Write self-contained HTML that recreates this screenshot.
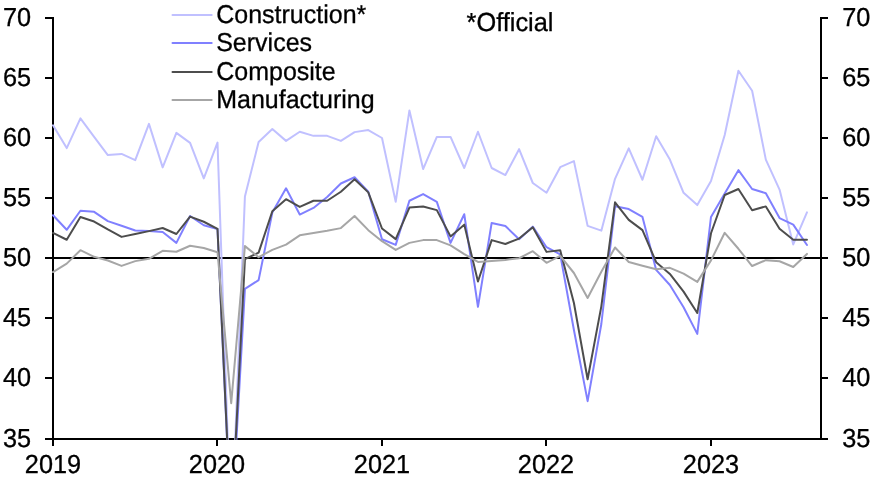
<!DOCTYPE html>
<html><head><meta charset="utf-8"><title>PMI chart</title>
<style>
html,body{margin:0;padding:0;background:#fff;}
text{text-rendering:geometricPrecision;stroke:#000;stroke-width:0.3px;}
svg{display:block;font-family:"Liberation Sans",sans-serif;font-size:25.3px;fill:#000;}
.s{fill:none;stroke-width:2;stroke-linejoin:round;stroke-linecap:round;}
.ax{stroke:#000;stroke-width:2;fill:none;shape-rendering:crispEdges;}
</style></head><body>
<svg width="873" height="482" viewBox="0 0 873 482">
<rect width="873" height="482" fill="#fff"/>
<defs><clipPath id="c"><rect x="0" y="0" width="873" height="440"/></clipPath></defs>

<line class="ax" x1="45" x2="828" y1="258" y2="258"/>
<line class="ax" x1="53" x2="53" y1="17" y2="446"/>
<line class="ax" x1="821" x2="821" y1="17" y2="440"/>
<line class="ax" x1="45" x2="828" y1="439" y2="439"/>
<line class="ax" x1="45" x2="53" y1="378" y2="378"/>
<line class="ax" x1="821" x2="828" y1="378" y2="378"/>
<line class="ax" x1="45" x2="53" y1="318" y2="318"/>
<line class="ax" x1="821" x2="828" y1="318" y2="318"/>
<line class="ax" x1="45" x2="53" y1="198" y2="198"/>
<line class="ax" x1="821" x2="828" y1="198" y2="198"/>
<line class="ax" x1="45" x2="53" y1="138" y2="138"/>
<line class="ax" x1="821" x2="828" y1="138" y2="138"/>
<line class="ax" x1="45" x2="53" y1="78" y2="78"/>
<line class="ax" x1="821" x2="828" y1="78" y2="78"/>
<line class="ax" x1="45" x2="53" y1="18" y2="18"/>
<line class="ax" x1="821" x2="828" y1="18" y2="18"/>
<g clip-path="url(#c)">
<polyline class="s" stroke="#c0c0ff" points="53.00,125.28 66.71,148.08 80.42,118.32 94.12,136.80 107.83,155.04 121.54,153.96 135.25,160.20 148.96,123.84 162.67,167.40 176.38,132.84 190.08,142.92 203.79,178.44 217.50,142.56 231.21,538.80 244.92,196.56 258.62,142.08 272.33,129.00 286.04,140.88 299.75,131.76 313.46,135.84 327.17,135.84 340.88,140.88 354.58,132.12 368.29,130.08 382.00,138.00 395.71,201.84 409.42,110.40 423.12,169.08 436.83,136.92 450.54,136.92 464.25,168.00 477.96,131.76 491.67,168.00 505.38,175.08 519.08,149.16 532.79,183.00 546.50,192.72 560.21,167.16 573.92,161.16 587.62,225.84 601.33,230.64 615.04,178.80 628.75,148.32 642.46,179.76 656.17,136.20 669.88,159.60 683.58,192.84 697.29,205.08 711.00,180.96 724.71,135.00 738.42,70.80 752.12,90.72 765.83,159.60 779.54,189.60 793.25,244.44 806.96,212.40"/>
<polyline class="s" stroke="#8080ff" points="53.00,215.28 66.71,229.80 80.42,210.72 94.12,211.80 107.83,221.16 121.54,225.72 135.25,230.52 148.96,230.88 162.67,232.08 176.38,242.88 190.08,216.00 203.79,225.24 217.50,228.96 231.21,531.60 244.92,288.96 258.62,280.08 272.33,212.52 286.04,188.28 299.75,214.56 313.46,207.96 327.17,197.04 340.88,183.48 354.58,177.24 368.29,191.76 382.00,239.28 395.71,244.92 409.42,200.76 423.12,194.04 436.83,201.84 450.54,242.88 464.25,214.20 477.96,306.84 491.67,222.96 505.38,226.08 519.08,239.16 532.79,226.68 546.50,247.20 560.21,254.40 573.92,330.00 587.62,401.16 601.33,324.00 615.04,206.16 628.75,209.04 642.46,216.96 656.17,269.88 669.88,285.00 683.58,307.20 697.29,333.84 711.00,216.96 724.71,193.56 738.42,170.16 752.12,189.00 765.83,193.20 779.54,218.04 793.25,224.64 806.96,245.04"/>
<polyline class="s" stroke="#4d4d4d" points="53.00,232.92 66.71,239.76 80.42,216.96 94.12,221.52 107.83,229.44 121.54,236.88 135.25,234.00 148.96,231.12 162.67,228.00 176.38,234.00 190.08,216.60 203.79,221.76 217.50,228.84 231.21,528.00 244.92,259.20 258.62,252.60 272.33,211.20 286.04,199.20 299.75,206.88 313.46,200.76 327.17,200.76 340.88,191.76 354.58,179.28 368.29,192.36 382.00,228.48 395.71,239.16 409.42,207.60 423.12,206.52 436.83,210.12 450.54,236.40 464.25,224.64 477.96,281.52 491.67,240.12 505.38,243.96 519.08,238.56 532.79,227.28 546.50,251.88 560.21,250.20 573.92,303.00 587.62,379.20 601.33,306.36 615.04,202.32 628.75,219.84 642.46,230.16 656.17,262.20 669.88,273.96 683.58,291.60 697.29,312.96 711.00,233.28 724.71,195.00 738.42,189.00 752.12,210.24 765.83,206.40 779.54,228.84 793.25,239.76 806.96,239.76"/>
<polyline class="s" stroke="#a6a6a6" points="53.00,272.04 66.71,263.64 80.42,250.20 94.12,256.80 107.83,260.52 121.54,265.92 135.25,261.12 148.96,258.84 162.67,250.80 176.38,251.76 190.08,245.76 203.79,248.04 217.50,252.24 231.21,403.20 244.92,246.12 258.62,257.16 272.33,249.84 286.04,244.68 299.75,235.32 313.46,232.92 327.17,230.76 340.88,228.12 354.58,216.00 368.29,230.16 382.00,241.20 395.71,249.96 409.42,242.88 423.12,240.12 436.83,240.12 450.54,245.40 464.25,254.04 477.96,261.96 491.67,260.88 505.38,259.92 519.08,258.24 532.79,251.16 546.50,262.80 560.21,255.96 573.92,273.00 587.62,297.96 601.33,271.80 615.04,247.44 628.75,261.96 642.46,265.68 656.17,269.28 669.88,267.84 683.58,273.60 697.29,281.88 711.00,260.40 724.71,232.80 738.42,248.76 752.12,266.04 765.83,260.16 779.54,261.24 793.25,267.00 806.96,253.92"/>
</g>
<line class="s" stroke="#c0c0ff" x1="172.5" x2="211.7" y1="15" y2="15"/>
<line class="s" stroke="#8080ff" x1="172.5" x2="211.7" y1="43" y2="43"/>
<line class="s" stroke="#4d4d4d" x1="172.5" x2="211.7" y1="72" y2="72"/>
<line class="s" stroke="#a6a6a6" x1="172.5" x2="211.7" y1="100" y2="100"/>
<g style="filter:grayscale(1)">
<text transform="translate(2.9,447.0) scale(1,1.03)" text-anchor="start">35</text>
<text transform="translate(842.2,447.0) scale(1,1.03)" text-anchor="start">35</text>
<text transform="translate(2.9,386.0) scale(1,1.03)" text-anchor="start">40</text>
<text transform="translate(842.2,386.0) scale(1,1.03)" text-anchor="start">40</text>
<text transform="translate(2.9,326.0) scale(1,1.03)" text-anchor="start">45</text>
<text transform="translate(842.2,326.0) scale(1,1.03)" text-anchor="start">45</text>
<text transform="translate(2.9,266.0) scale(1,1.03)" text-anchor="start">50</text>
<text transform="translate(842.2,266.0) scale(1,1.03)" text-anchor="start">50</text>
<text transform="translate(2.9,206.0) scale(1,1.03)" text-anchor="start">55</text>
<text transform="translate(842.2,206.0) scale(1,1.03)" text-anchor="start">55</text>
<text transform="translate(2.9,146.0) scale(1,1.03)" text-anchor="start">60</text>
<text transform="translate(842.2,146.0) scale(1,1.03)" text-anchor="start">60</text>
<text transform="translate(2.9,86.0) scale(1,1.03)" text-anchor="start">65</text>
<text transform="translate(842.2,86.0) scale(1,1.03)" text-anchor="start">65</text>
<text transform="translate(2.9,26.0) scale(1,1.03)" text-anchor="start">70</text>
<text transform="translate(842.2,26.0) scale(1,1.03)" text-anchor="start">70</text>
<text transform="translate(53,473.1) scale(1,1.03)" text-anchor="middle">2019</text>
<line class="ax" x1="217" x2="217" y1="439" y2="446"/>
<text transform="translate(217,473.1) scale(1,1.03)" text-anchor="middle">2020</text>
<line class="ax" x1="382" x2="382" y1="439" y2="446"/>
<text transform="translate(382,473.1) scale(1,1.03)" text-anchor="middle">2021</text>
<line class="ax" x1="546" x2="546" y1="439" y2="446"/>
<text transform="translate(546,473.1) scale(1,1.03)" text-anchor="middle">2022</text>
<line class="ax" x1="711" x2="711" y1="439" y2="446"/>
<text transform="translate(711,473.1) scale(1,1.03)" text-anchor="middle">2023</text>
<text transform="translate(216.2,23.2) scale(1,1.03)" text-anchor="start" font-size="25.0">Construction*</text>
<text transform="translate(216.2,51.2) scale(1,1.03)" text-anchor="start" font-size="25.0">Services</text>
<text transform="translate(216.2,80.2) scale(1,1.03)" text-anchor="start" font-size="25.0">Composite</text>
<text transform="translate(216.2,108.2) scale(1,1.03)" text-anchor="start" font-size="25.0">Manufacturing</text>
<text transform="translate(466.6,31) scale(1,1.03)" text-anchor="start" font-size="25.35">*Official</text>
</g>
</svg></body></html>
